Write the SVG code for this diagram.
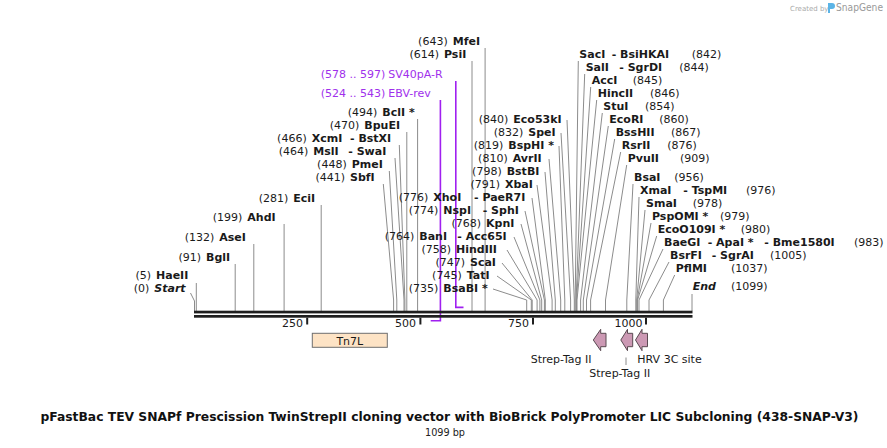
<svg xmlns="http://www.w3.org/2000/svg" width="887" height="448" viewBox="0 0 887 448">
<style>
.t{font-family:"DejaVu Sans",Verdana,sans-serif;font-size:11px;fill:#1a1a1a}
.b{font-weight:bold}
.bi{font-weight:bold;font-style:italic}
.p{fill:#a030ec}
.e{text-anchor:end}
.ln{stroke:#8c8c8c;stroke-width:1;fill:none}
.pl{stroke:#a020f0;stroke-width:1.6;fill:none}
.ft{fill:#cc99b4;stroke:#5a4a52;stroke-width:1}
</style>
<rect width="887" height="448" fill="#fff"/>
<g id="credit">
<text x="790" y="11" style="font-family:'DejaVu Sans',sans-serif;font-size:7px;fill:#aaa">Created by</text>
<path d="M828 3 h4 a3 3 0 0 1 0 6 h-2 v4 h-2 z" fill="#5bb4e6"/>
<text x="836" y="11" textLength="47" lengthAdjust="spacingAndGlyphs" style="font-family:'DejaVu Sans',sans-serif;font-size:10px;fill:#999">SnapGene</text>
</g>
<g id="connectors">
<polyline class="ln" points="190.5,293 194.5,301 194.5,311"/>
<polyline class="ln" points="196.3,283 196.3,311"/>
<polyline class="ln" points="235.2,264 235.2,311"/>
<polyline class="ln" points="253.8,244 253.8,311"/>
<polyline class="ln" points="284.1,224 284.1,311"/>
<polyline class="ln" points="321.2,205 321.2,311"/>
<polyline class="ln" points="383.3,184 393.6,300 393.6,311"/>
<polyline class="ln" points="389.3,171 396.8,300 396.8,311"/>
<polyline class="ln" points="395,158 404,300 404,311"/>
<polyline class="ln" points="399.3,145 404.9,300 404.9,311"/>
<polyline class="ln" points="406.8,132 406.8,311"/>
<polyline class="ln" points="417.6,119 417.6,311"/>
<polyline class="ln" points="472,61 472,311"/>
<polyline class="ln" points="485.1,48 485.1,311"/>
<polyline class="ln" points="493,289 526.7,300 526.7,311"/>
<polyline class="ln" points="497,276 531.3,300 531.3,311"/>
<polyline class="ln" points="502,263 532.2,300 532.2,311"/>
<polyline class="ln" points="507,250 537.1,300 537.1,311"/>
<polyline class="ln" points="514,237 539.9,300 539.9,311"/>
<polyline class="ln" points="521,224 541.7,300 541.7,311"/>
<polyline class="ln" points="525,211 544.4,300 544.4,311"/>
<polyline class="ln" points="532,198 545.3,300 545.3,311"/>
<polyline class="ln" points="537,185 552.1,300 552.1,311"/>
<polyline class="ln" points="545,172 555.3,300 555.3,311"/>
<polyline class="ln" points="549,159 560.7,300 560.7,311"/>
<polyline class="ln" points="559,146 564.8,300 564.8,311"/>
<polyline class="ln" points="561,133 570.6,300 570.6,311"/>
<polyline class="ln" points="567,120 574.3,300 574.3,311"/>
<polyline class="ln" points="578.3,61 575.2,300 575.2,311"/>
<polyline class="ln" points="584.7,74 576.1,300 576.1,311"/>
<polyline class="ln" points="590.7,87 576.5,300 576.5,311"/>
<polyline class="ln" points="596.7,100 577,300 577,311"/>
<polyline class="ln" points="602.3,113 580.6,300 580.6,311"/>
<polyline class="ln" points="608.3,126 583.3,300 583.3,311"/>
<polyline class="ln" points="614.7,139 586.5,300 586.5,311"/>
<polyline class="ln" points="620.7,152 590.6,300 590.6,311"/>
<polyline class="ln" points="626.7,165 605.5,300 605.5,311"/>
<polyline class="ln" points="633,184 626.8,300 626.8,311"/>
<polyline class="ln" points="639,197 635.8,300 635.8,311"/>
<polyline class="ln" points="645,210 636.7,300 636.7,311"/>
<polyline class="ln" points="651,223 637.2,300 637.2,311"/>
<polyline class="ln" points="656.7,236 637.6,300 637.6,311"/>
<polyline class="ln" points="663,249 639,300 639,311"/>
<polyline class="ln" points="669,262 649,300 649,311"/>
<polyline class="ln" points="674.7,275 663.4,300 663.4,311"/>
<polyline class="ln" points="692,294 692,311"/>
<polyline class="pl" points="440.4,100 440.4,320.8 430.7,320.8"/>
<polyline class="pl" points="455.8,81 455.8,307.4 463.5,307.4"/>
<line x1="626" y1="357.5" x2="626" y2="365" class="ln"/>
</g>
<g id="sequence">
<rect x="194" y="310.7" width="498.5" height="2.7" fill="#1f1f1f"/>
<rect x="194" y="315" width="498.5" height="2.7" fill="#1f1f1f"/>
<rect x="306.2" y="317.7" width="2" height="6.8" fill="#1f1f1f"/>
<rect x="419.4" y="317.7" width="2" height="6.8" fill="#1f1f1f"/>
<rect x="532" y="317.7" width="2" height="6.8" fill="#1f1f1f"/>
<rect x="645" y="317.7" width="2" height="6.8" fill="#1f1f1f"/>
<text class="t e" x="303" y="327">250</text>
<text class="t e" x="416" y="327">500</text>
<text class="t e" x="529" y="327">750</text>
<text class="t e" x="642.5" y="327">1000</text>
</g>
<g id="site-0"><text class="t e" x="149.3" y="291.5">(0)</text><text class="t bi" x="154.3" y="291.5">Start</text></g>
<g id="site-5"><text class="t e" x="151" y="279">(5)</text><text class="t b" x="156" y="279">HaeII</text></g>
<g id="site-91"><text class="t e" x="201" y="261">(91)</text><text class="t b" x="206" y="261">BglI</text></g>
<g id="site-132"><text class="t e" x="214.3" y="241">(132)</text><text class="t b" x="219.3" y="241">AseI</text></g>
<g id="site-199"><text class="t e" x="242.3" y="221">(199)</text><text class="t b" x="247.3" y="221">AhdI</text></g>
<g id="site-281"><text class="t e" x="288.3" y="202">(281)</text><text class="t b" x="293.3" y="202">EciI</text></g>
<g id="site-441"><text class="t e" x="345" y="181">(441)</text><text class="t b" x="350" y="181">SbfI</text></g>
<g id="site-448"><text class="t e" x="346.7" y="168">(448)</text><text class="t b" x="351.7" y="168">PmeI</text></g>
<g id="site-464"><text class="t e" x="308.3" y="155">(464)</text><text class="t b" x="313.3" y="155">MslI</text><text class="t b" x="348.3" y="155">- SwaI</text></g>
<g id="site-466"><text class="t e" x="306.7" y="142">(466)</text><text class="t b" x="311.7" y="142">XcmI</text><text class="t b" x="350" y="142">- BstXI</text></g>
<g id="site-470"><text class="t e" x="359.3" y="129">(470)</text><text class="t b" x="364.3" y="129">BpuEI</text></g>
<g id="site-494"><text class="t e" x="377.3" y="116">(494)</text><text class="t b" x="382.3" y="116">BclI *</text></g>
<g id="primer-ebv"><text class="t p" x="320.7" y="97">(524 .. 543)</text><text class="t p" x="388.3" y="97">EBV-rev</text></g>
<g id="primer-sv40"><text class="t p" x="320.7" y="78">(578 .. 597)</text><text class="t p" x="388.3" y="78">SV40pA-R</text></g>
<g id="site-614"><text class="t e" x="439" y="58">(614)</text><text class="t b" x="444" y="58">PsiI</text></g>
<g id="site-643"><text class="t e" x="447.7" y="45">(643)</text><text class="t b" x="452.7" y="45">MfeI</text></g>
<g id="site-735"><text class="t e" x="438.3" y="292">(735)</text><text class="t b" x="443.3" y="292">BsaBI *</text></g>
<g id="site-745"><text class="t e" x="461.7" y="279">(745)</text><text class="t b" x="466.7" y="279">TatI</text></g>
<g id="site-747"><text class="t e" x="465" y="266">(747)</text><text class="t b" x="470" y="266">ScaI</text></g>
<g id="site-758"><text class="t e" x="451" y="253">(758)</text><text class="t b" x="456" y="253">HindIII</text></g>
<g id="site-764"><text class="t e" x="414.3" y="240">(764)</text><text class="t b" x="419.3" y="240">BanI</text><text class="t b" x="457.3" y="240">- Acc65I</text></g>
<g id="site-768"><text class="t e" x="481" y="227">(768)</text><text class="t b" x="486" y="227">KpnI</text></g>
<g id="site-774"><text class="t e" x="438.3" y="214">(774)</text><text class="t b" x="443.3" y="214">NspI</text><text class="t b" x="482.7" y="214">- SphI</text></g>
<g id="site-776"><text class="t e" x="428.3" y="201">(776)</text><text class="t b" x="433.3" y="201">XhoI</text><text class="t b" x="474" y="201">- PaeR7I</text></g>
<g id="site-791"><text class="t e" x="500" y="188">(791)</text><text class="t b" x="505" y="188">XbaI</text></g>
<g id="site-798"><text class="t e" x="501.7" y="175">(798)</text><text class="t b" x="506.7" y="175">BstBI</text></g>
<g id="site-810"><text class="t e" x="507.7" y="162">(810)</text><text class="t b" x="512.7" y="162">AvrII</text></g>
<g id="site-819"><text class="t e" x="503.3" y="149">(819)</text><text class="t b" x="508.3" y="149">BspHI *</text></g>
<g id="site-832"><text class="t e" x="523.3" y="136">(832)</text><text class="t b" x="528.3" y="136">SpeI</text></g>
<g id="site-840"><text class="t e" x="508.3" y="123">(840)</text><text class="t b" x="513.3" y="123">Eco53kI</text></g>
<g id="site-842"><text class="t b" x="579.3" y="58">SacI</text><text class="t b" x="611.7" y="58">- BsiHKAI</text><text class="t" x="691.7" y="58">(842)</text></g>
<g id="site-844"><text class="t b" x="585.7" y="71">SalI</text><text class="t b" x="619.3" y="71">- SgrDI</text><text class="t" x="679.3" y="71">(844)</text></g>
<g id="site-845"><text class="t b" x="591.7" y="84">AccI</text><text class="t" x="632.7" y="84">(845)</text></g>
<g id="site-846"><text class="t b" x="597.7" y="97">HincII</text><text class="t" x="650" y="97">(846)</text></g>
<g id="site-854"><text class="t b" x="603.3" y="110">StuI</text><text class="t" x="645" y="110">(854)</text></g>
<g id="site-860"><text class="t b" x="609.3" y="123">EcoRI</text><text class="t" x="659.3" y="123">(860)</text></g>
<g id="site-867"><text class="t b" x="615.7" y="136">BssHII</text><text class="t" x="671" y="136">(867)</text></g>
<g id="site-876"><text class="t b" x="621.7" y="149">RsrII</text><text class="t" x="667.3" y="149">(876)</text></g>
<g id="site-909"><text class="t b" x="627.7" y="162">PvuII</text><text class="t" x="680" y="162">(909)</text></g>
<g id="site-956"><text class="t b" x="634" y="181">BsaI</text><text class="t" x="674.3" y="181">(956)</text></g>
<g id="site-976"><text class="t b" x="640" y="194">XmaI</text><text class="t b" x="683.3" y="194">- TspMI</text><text class="t" x="746" y="194">(976)</text></g>
<g id="site-978"><text class="t b" x="646" y="207">SmaI</text><text class="t" x="692.7" y="207">(978)</text></g>
<g id="site-979"><text class="t b" x="652" y="220">PspOMI *</text><text class="t" x="720" y="220">(979)</text></g>
<g id="site-980"><text class="t b" x="657.7" y="233">EcoO109I *</text><text class="t" x="740.7" y="233">(980)</text></g>
<g id="site-983"><text class="t b" x="664" y="246">BaeGI</text><text class="t b" x="707.7" y="246">- ApaI *</text><text class="t b" x="764.3" y="246">- Bme1580I</text><text class="t" x="854" y="246">(983)</text></g>
<g id="site-1005"><text class="t b" x="670" y="259">BsrFI</text><text class="t b" x="711.7" y="259">- SgrAI</text><text class="t" x="770" y="259">(1005)</text></g>
<g id="site-1037"><text class="t b" x="675.7" y="272">PflMI</text><text class="t" x="731" y="272">(1037)</text></g>
<g id="site-end"><text class="t bi" x="692.7" y="290">End</text><text class="t" x="731" y="290">(1099)</text></g>
<g id="feature-tn7l"><rect x="312.3" y="333.3" width="75" height="14" fill="#fde3c5" stroke="#6e6e6e" stroke-width="1"/><text class="t" x="349.8" y="344.5" text-anchor="middle">Tn7L</text></g>
<g id="feature-strep1"><polygon class="ft" points="593.3,340 600.7,329.3 600.7,333.3 606,333.3 606,346.7 600.7,346.7 600.7,350.7"/><text class="t" x="530.7" y="363.3">Strep-Tag II</text></g>
<g id="feature-strep2"><polygon class="ft" points="620.8,340 627.5,329.3 627.5,333.3 632.7,333.3 632.7,346.7 627.5,346.7 627.5,350.7"/><text class="t" x="589.3" y="377.3">Strep-Tag II</text></g>
<g id="feature-hrv"><polygon class="ft" points="635.5,340 642,329.3 642,333.3 647.5,333.3 647.5,346.7 642,346.7 642,350.7"/><text class="t" x="637.3" y="363.3">HRV 3C site</text></g>
<g id="title">
<text x="449.5" y="421" text-anchor="middle" textLength="818" lengthAdjust="spacingAndGlyphs" style="font-family:'DejaVu Sans Condensed','DejaVu Sans',sans-serif;font-stretch:condensed;font-size:12.5px;font-weight:bold;fill:#111">pFastBac TEV SNAPf Prescission TwinStrepII cloning vector with BioBrick PolyPromoter LIC Subcloning (438-SNAP-V3)</text>
<text x="445" y="436" text-anchor="middle" textLength="40" lengthAdjust="spacingAndGlyphs" style="font-family:'DejaVu Sans Condensed','DejaVu Sans',sans-serif;font-stretch:condensed;font-size:11px;fill:#222">1099 bp</text>
</g>
</svg>
